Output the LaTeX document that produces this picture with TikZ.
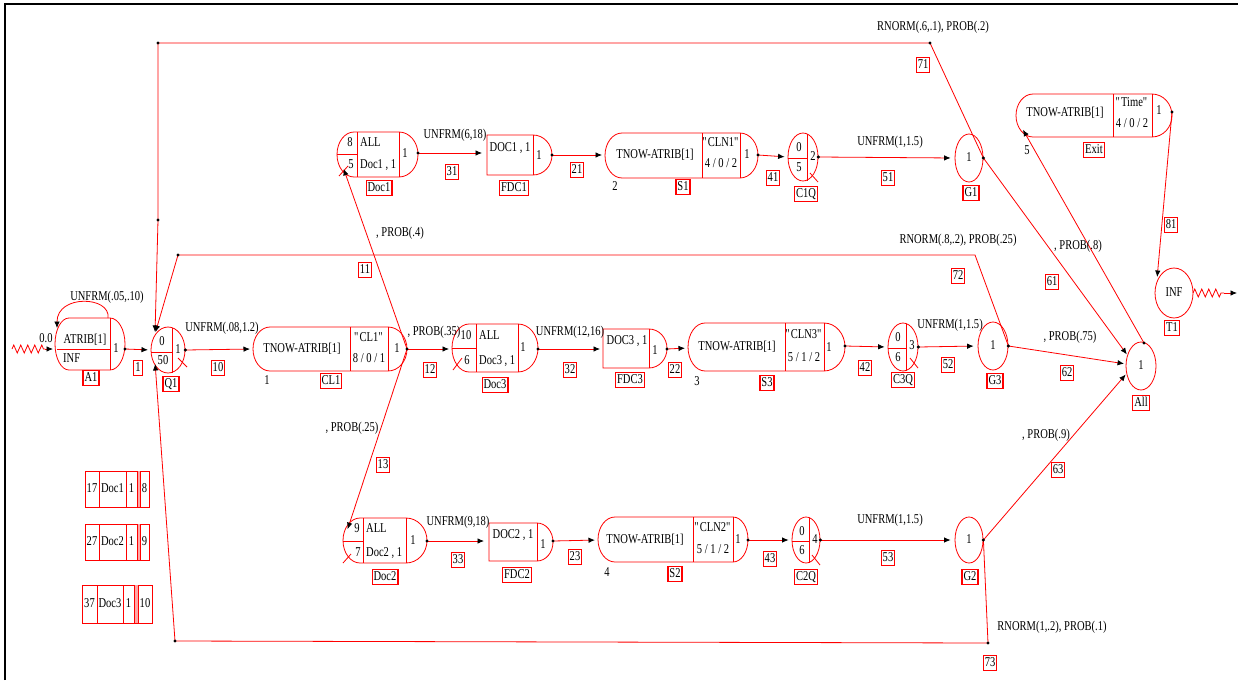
\documentclass[tikz,border=0pt]{standalone}
\usepackage{fontspec}
\setmainfont{Liberation Serif}[FakeStretch=0.78]
\usetikzlibrary{arrows.meta,decorations.pathmorphing,shapes.geometric}

% straight double quotes round a text (glyph taken directly, no quote mapping)
\newcommand{\sqmark}{\XeTeXglyph\XeTeXcharglyph"22\relax}
\newcommand{\sq}[1]{\sqmark#1\sqmark}

% outline with elliptic end caps: xl, xr, top, bottom, left cap width, right cap width
\newcommand{\flowpill}[6]{%
  \pgfmathsetmacro{\pqym}{(#3+#4)/2}%
  \pgfmathsetmacro{\pqhh}{(#4-#3)/2}%
  \pgfmathsetmacro{\pqa}{#1+#5}%
  \pgfmathsetmacro{\pqb}{#2-#6}%
  \pgfmathsetmacro{\pqak}{#1+#5-0.552*#5}%
  \pgfmathsetmacro{\pqbk}{#2-#6+0.552*#6}%
  \pgfmathsetmacro{\pqt}{\pqym-0.552*\pqhh}%
  \pgfmathsetmacro{\pqu}{\pqym+0.552*\pqhh}%
  \draw[shp] (\pqa,#3) -- (\pqb,#3)
     .. controls (\pqbk,#3) and (#2,\pqt) .. (#2,\pqym)
     .. controls (#2,\pqu) and (\pqbk,#4) .. (\pqb,#4)
     -- (\pqa,#4)
     .. controls (\pqak,#4) and (#1,\pqu) .. (#1,\pqym)
     .. controls (#1,\pqt) and (\pqak,#3) .. cycle;
}

\tikzset{
  shp/.style={draw=red, line width=0.8pt},
  flow/.style={draw=red, line width=0.8pt, -{Latex[black,length=6.5pt,width=5.5pt]}, shorten >=2pt},
  txt/.style={inner sep=0pt, text height=9pt, text depth=2.5pt},
  tag/.style={draw=red, line width=1.2pt, inner xsep=1.5pt, inner ysep=1.8pt, text height=9pt, text depth=2.5pt},
  oval/.style={ellipse, draw=red, line width=0.8pt, inner sep=0pt},
  zig/.style={draw=red, line width=0.8pt, decorate, decoration={zigzag, segment length=7pt, amplitude=4pt}},
  dot/.style={fill=black},
}

\begin{document}
\begin{tikzpicture}[x=1pt, y=-1pt, every node/.style={font=\fontsize{13.5}{15}\selectfont}]
\useasboundingbox (0,0) rectangle (1238,680);
\fill[white] (0,0) rectangle (1238,680);
% window frame
\draw[black, line width=2pt] (5,680) -- (5,4) -- (1238,4);

% ---------------- shapes ----------------
% A1 create node
\flowpill{55}{125}{318}{370}{14}{15}
\draw[shp] (110,318) -- (110,370);
\draw[shp] (57,349) -- (110,349);
\node[txt] (A1a) at (85,340) {ATRIB[1]};
\node[txt, anchor=west] (A1b) at (63,359) {INF};
\node[txt] (A1c) at (116,349) {1};

% Q1 queue
\node[oval, minimum width=34pt, minimum height=46pt] (Q1) at (168,350) {};
\draw[shp] (172,327.5) -- (172,372.5);
\draw[shp] (151,352) -- (172,352);
\draw[shp] (178,358) -- (187,367);
\node[txt] (Q1a) at (162,342) {0};
\node[txt] (Q1b) at (163,361) {50};
\node[txt] (Q1c) at (178,350) {1};

% CL1 activity
\flowpill{253}{407}{327}{371}{17}{19}
\draw[shp] (350,327) -- (350,371);
\draw[shp] (388,327) -- (388,371);
\node[txt] (CL1a) at (302,349) {TNOW-ATRIB[1]};
\node[txt] (CL1b) at (369,338) {\sq{CL1}};
\node[txt] (CL1c) at (369,359) {8 / 0 / 1};
\node[txt] (CL1d) at (397,349) {1};

% Doc1 await
\flowpill{337}{418}{132}{177}{17}{19}
\draw[shp] (357,132) -- (357,177);
\draw[shp] (399,132) -- (399,177);
\draw[shp] (337,154) -- (357,154);
\draw[shp] (339,176) -- (348,166);
\node[txt] (D1a) at (350,143) {8};
\node[txt] (D1b) at (351,165) {5};
\node[txt, anchor=west] (D1c) at (360,143) {ALL};
\node[txt, anchor=west] (D1d) at (360,165) {Doc1 , 1};
\node[txt] (D1e) at (405,154) {1};

% FDC1 free
\flowpill{487}{552}{135}{175}{0}{19}
\draw[shp] (533,135) -- (533,175);
\node[txt] (F1a) at (510,148) {DOC1 , 1};
\node[txt] (F1b) at (539,156) {1};

% S1 activity
\flowpill{605}{758}{133}{178}{17}{18}
\draw[shp] (702,133) -- (702,178);
\draw[shp] (740,133) -- (740,178);
\node[txt] (S1a) at (655,155) {TNOW-ATRIB[1]};
\node[txt] (S1b) at (721,143) {\sq{CLN1}};
\node[txt] (S1c) at (721,164) {4 / 0 / 2};
\node[txt] (S1d) at (747,155) {1};

% C1Q queue
\node[oval, minimum width=30pt, minimum height=48pt] (C1Q) at (803,157) {};
\draw[shp] (807,133.5) -- (807,180.5);
\draw[shp] (788,158) -- (807,158);
\draw[shp] (810,173) -- (818,182);
\node[txt] (C1a) at (799,148) {0};
\node[txt] (C1b) at (799,168) {5};
\node[txt] (C1c) at (813,157) {2};

% G1
\node[oval, minimum width=28pt, minimum height=48pt] (G1) at (969,158) {};
\node[txt] (G1a) at (969,158) {1};

% Doc3 await
\flowpill{452}{538}{324}{372}{17}{20}
\draw[shp] (476,324) -- (476,372);
\draw[shp] (518,324) -- (518,372);
\draw[shp] (452,348) -- (476,348);
\draw[shp] (453,370) -- (462,358);
\node[txt] (D3a) at (466,336) {10};
\node[txt] (D3b) at (467,361) {6};
\node[txt, anchor=west] (D3c) at (479,336) {ALL};
\node[txt, anchor=west] (D3d) at (479,361) {Doc3 , 1};
\node[txt] (D3e) at (523,348) {1};

% FDC3 free
\flowpill{603}{667}{329}{368}{0}{18}
\draw[shp] (649,329) -- (649,368);
\node[txt] (F3a) at (627,341) {DOC3 , 1};
\node[txt] (F3b) at (655,351) {1};

% S3 activity
\flowpill{688}{845}{323}{371}{17}{21}
\draw[shp] (785,323) -- (785,371);
\draw[shp] (824,323) -- (824,371);
\node[txt] (S3a) at (737,347) {TNOW-ATRIB[1]};
\node[txt] (S3b) at (804,335) {\sq{CLN3}};
\node[txt] (S3c) at (804,358) {5 / 1 / 2};
\node[txt] (S3d) at (829,348) {1};

% C3Q queue
\node[oval, minimum width=30pt, minimum height=48pt] (C3Q) at (903,347) {};
\draw[shp] (906,323.5) -- (906,370.5);
\draw[shp] (888,348) -- (906,348);
\draw[shp] (910,358) -- (918,368);
\node[txt] (C3a) at (898,338) {0};
\node[txt] (C3b) at (898,358) {6};
\node[txt] (C3c) at (912,346) {3};

% G3
\node[oval, minimum width=30pt, minimum height=48pt] (G3) at (993,346) {};
\node[txt] (G3a) at (993,346) {1};

% Doc2 await
\flowpill{343}{427}{518}{563}{17}{21}
\draw[shp] (363,518) -- (363,563);
\draw[shp] (406,518) -- (406,563);
\draw[shp] (343,541) -- (363,541);
\draw[shp] (343,563) -- (351,554);
\node[txt] (D2a) at (357,529) {9};
\node[txt] (D2b) at (358,553) {7};
\node[txt, anchor=west] (D2c) at (366,529) {ALL};
\node[txt, anchor=west] (D2d) at (366,553) {Doc2 , 1};
\node[txt] (D2e) at (413,541) {1};

% FDC2 free
\flowpill{489}{553}{523}{561}{0}{16}
\draw[shp] (537,523) -- (537,561);
\node[txt] (F2a) at (513,535) {DOC2 , 1};
\node[txt] (F2b) at (543,545) {1};

% S2 activity
\flowpill{598}{748}{517}{562}{17}{15}
\draw[shp] (693,517) -- (693,562);
\draw[shp] (733,517) -- (733,562);
\node[txt] (S2a) at (645,540) {TNOW-ATRIB[1]};
\node[txt] (S2b) at (713,528) {\sq{CLN2}};
\node[txt] (S2c) at (713,550) {5 / 1 / 2};
\node[txt] (S2d) at (738,540) {1};

% C2Q queue
\node[oval, minimum width=28pt, minimum height=46pt] (C2Q) at (806,540) {};
\draw[shp] (809,517.5) -- (809,562.5);
\draw[shp] (792,541) -- (809,541);
\draw[shp] (812,555) -- (820,565);
\node[txt] (C2a) at (802,532) {0};
\node[txt] (C2b) at (802,551) {6};
\node[txt] (C2c) at (815,540) {4};

% G2
\node[oval, minimum width=28pt, minimum height=46pt] (G2) at (969,540) {};
\node[txt] (G2a) at (969,540) {1};

% All (accumulate)
\node[oval, minimum width=30pt, minimum height=48pt] (All) at (1141,366) {};
\node[txt] (Alla) at (1141,366) {1};

% Exit activity
\flowpill{1016}{1172}{94}{137}{17}{20}
\draw[shp] (1113,94) -- (1113,137);
\draw[shp] (1152,94) -- (1152,137);
\node[txt] (Ea) at (1065,113) {TNOW-ATRIB[1]};
\node[txt] (Eb) at (1132,103) {\sq{Time}};
\node[txt] (Ec) at (1132,124) {4 / 0 / 2};
\node[txt] (Ed) at (1159,111) {1};

% T1 terminate
\node[oval, minimum width=38pt, minimum height=50pt] (T1) at (1174,293) {};
\node[txt] (T1a) at (1174,293) {INF};

% ---------------- connection points ----------------
\coordinate (A1-in) at (55,349);
\coordinate (A1-out) at (125,349);
\coordinate (A1-top) at (108,318);
\coordinate (A1-back) at (57,330);
\coordinate (srcA) at (12,349);
\coordinate (srcB) at (45,349);
\coordinate (Q1-in) at (151,350);
\coordinate (Q1-tin) at (155,334);
\coordinate (Q1-bin) at (155,362);
\coordinate (CL1-in) at (253,349);
\coordinate (CL1-out) at (407,349);
\coordinate (Doc1-in) at (343,167);
\coordinate (Doc1-out) at (418,153);
\coordinate (Doc3-in) at (452,349);
\coordinate (Doc3-out) at (538,349);
\coordinate (Doc2-in) at (347,531);
\coordinate (Doc2-out) at (427,541);
\coordinate (FDC1-in) at (487,153);
\coordinate (FDC1-out) at (552,155);
\coordinate (FDC3-in) at (603,349);
\coordinate (FDC3-out) at (667,349);
\coordinate (FDC2-in) at (489,541);
\coordinate (FDC2-out) at (553,541);
\coordinate (S1-in) at (605,155);
\coordinate (S1-out) at (758,155);
\coordinate (S3-in) at (688,348);
\coordinate (S3-out) at (845,346);
\coordinate (S2-in) at (598,540);
\coordinate (S2-out) at (748,540);
\coordinate (All-a) at (1128,356);
\coordinate (All-b) at (1126,364);
\coordinate (All-c) at (1127,373);
\coordinate (All-top) at (1144,343);
\coordinate (Exit-in) at (1022,128);
\coordinate (Exit-out) at (1172,112);
\coordinate (T1-in) at (1157,279);
\coordinate (sinkA) at (1193,293);
\coordinate (sinkB) at (1224,293);
\coordinate (sinkC) at (1237,293);
% route corners
\coordinate (k71a) at (930,43);
\coordinate (k71b) at (158,43);
\coordinate (k71c) at (158,220);
\coordinate (k72a) at (975,255);
\coordinate (k72b) at (178,255);
\coordinate (k73a) at (988,643);
\coordinate (k73b) at (175,641);

% ---------------- connectors ----------------
\draw[zig] (srcA) -- (srcB);
\draw[flow] (srcB) -- (A1-in);
\draw[flow] (A1-top) .. controls (111,296) and (57,294) .. (A1-back);
\draw[flow, shorten >=3pt] (A1-out) -- (Q1-in);
\draw[flow, shorten >=3pt] (Q1.east) -- (CL1-in);
\draw[flow, shorten >=3pt] (CL1-out) -- (Doc3-in);
\draw[flow] (CL1-out) -- (Doc1-in);
\draw[flow] (CL1-out) -- (Doc2-in);
\draw[flow, shorten >=5pt] (Doc1-out) -- (FDC1-in);
\draw[flow, shorten >=3pt] (FDC1-out) -- (S1-in);
\draw[flow, shorten >=3pt] (S1-out) -- (C1Q.west);
\draw[flow, shorten >=4pt] (C1Q.east) -- (G1.west);
\draw[flow, shorten >=3pt] (Doc3-out) -- (FDC3-in);
\draw[flow, shorten >=3pt] (FDC3-out) -- (S3-in);
\draw[flow, shorten >=3pt] (S3-out) -- (C3Q.west);
\draw[flow, shorten >=4pt] (C3Q.east) -- (G3.west);
\draw[flow, shorten >=5pt] (Doc2-out) -- (FDC2-in);
\draw[flow, shorten >=3pt] (FDC2-out) -- (S2-in);
\draw[flow, shorten >=3pt] (S2-out) -- (C2Q.west);
\draw[flow, shorten >=4pt] (C2Q.east) -- (G2.west);
\draw[flow] (G1.east) -- (All-a);
\draw[flow] (G3.east) -- (All-b);
\draw[flow] (G2.east) -- (All-c);
\draw[flow] (All-top) -- (Exit-in);
\draw[flow] (Exit-out) -- (T1-in);
\draw[zig] (sinkA) -- (sinkB);
\draw[flow, shorten >=0pt] (sinkB) -- (sinkC);
\draw[flow] (G1.east) -- (k71a) -- (k71b) -- (k71c) -- (Q1-tin);
\draw[flow] (G3.east) -- (k72a) -- (k72b) -- (Q1-tin);
\draw[flow] (G2.east) -- (k73a) -- (k73b) -- (Q1-bin);

% output dots and route corners
\foreach \p in {A1-out, Q1.east, CL1-out, Doc1-out, FDC1-out, S1-out, C1Q.east, G1.east,
  Doc3-out, FDC3-out, S3-out, C3Q.east, G3.east, Doc2-out, FDC2-out, S2-out, C2Q.east,
  G2.east, All-top, Exit-out, k71a, k71b, k71c, k72b, k73a, k73b}
  \fill[dot] (\p) circle (1.7);

% ---------------- activity texts ----------------
\node[txt] (l01) at (107,297) {UNFRM(.05,.10)};
\node[txt] (l02) at (46,339) {0.0};
\node[txt] (l03) at (222,328) {UNFRM(.08,1.2)};
\node[txt] (l04) at (434,332) {, PROB(.35)};
\node[txt] (l05) at (400,233) {, PROB(.4)};
\node[txt] (l06) at (352,428) {, PROB(.25)};
\node[txt] (l07) at (455,135) {UNFRM(6,18)};
\node[txt] (l08) at (890,142) {UNFRM(1,1.5)};
\node[txt] (l09) at (933,27) {RNORM(.6,.1), PROB(.2)};
\node[txt] (l10) at (1078,246) {, PROB(.8)};
\node[txt] (l11) at (958,240) {RNORM(.8,.2), PROB(.25)};
\node[txt] (l12) at (1070,337) {, PROB(.75)};
\node[txt] (l13) at (570,332) {UNFRM(12,16)};
\node[txt] (l14) at (950,325) {UNFRM(1,1.5)};
\node[txt] (l15) at (1046,435) {, PROB(.9)};
\node[txt] (l16) at (458,522) {UNFRM(9,18)};
\node[txt] (l17) at (890,520) {UNFRM(1,1.5)};
\node[txt] (l18) at (1052,627) {RNORM(1,.2), PROB(.1)};
\node[txt] (n1) at (267,381) {1};
\node[txt] (n2) at (615,187) {2};
\node[txt] (n3) at (697,382) {3};
\node[txt] (n4) at (607,573) {4};
\node[txt] (n5) at (1027,151) {5};

% ---------------- number and name tags ----------------
\node[tag] (b1) at (138,368) {1};
\node[tag] (bA1) at (91,378) {A1};
\node[tag] (bQ1) at (171,384) {Q1};
\node[tag] (b10) at (218,368) {10};
\node[tag] (bCL1) at (331,381) {CL1};
\node[tag] (b12) at (430,370) {12};
\node[tag] (b11) at (365,270) {11};
\node[tag] (b13) at (383,465) {13};
\node[tag] (bDoc1) at (379,188) {Doc1};
\node[tag] (b31) at (452,172) {31};
\node[tag] (bFDC1) at (514,188) {FDC1};
\node[tag] (b21) at (577,170) {21};
\node[tag] (bS1) at (683,187) {S1};
\node[tag] (b41) at (773,178) {41};
\node[tag] (bC1Q) at (806,194) {C1Q};
\node[tag] (b51) at (888,178) {51};
\node[tag] (bG1) at (971,193) {G1};
\node[tag] (b71) at (923,65) {71};
\node[tag] (b61) at (1052,282) {61};
\node[tag] (bExit) at (1094,150) {Exit};
\node[tag] (b81) at (1171,225) {81};
\node[tag] (bT1) at (1172,328) {T1};
\node[tag] (b72) at (958,276) {72};
\node[tag] (b62) at (1067,373) {62};
\node[tag] (bAll) at (1141,403) {All};
\node[tag] (bDoc3) at (495,385) {Doc3};
\node[tag] (b32) at (570,370) {32};
\node[tag] (bFDC3) at (630,380) {FDC3};
\node[tag] (b22) at (675,370) {22};
\node[tag] (bS3) at (767,383) {S3};
\node[tag] (b42) at (865,368) {42};
\node[tag] (bC3Q) at (903,380) {C3Q};
\node[tag] (b52) at (948,365) {52};
\node[tag] (bG3) at (995,381) {G3};
\node[tag] (b63) at (1058,470) {63};
\node[tag] (bDoc2) at (385,577) {Doc2};
\node[tag] (b33) at (458,560) {33};
\node[tag] (bFDC2) at (517,575) {FDC2};
\node[tag] (b23) at (575,557) {23};
\node[tag] (bS2) at (675,574) {S2};
\node[tag] (b43) at (770,559) {43};
\node[tag] (bC2Q) at (806,577) {C2Q};
\node[tag] (b53) at (888,558) {53};
\node[tag] (bG2) at (970,577) {G2};
\node[tag] (b73) at (990,663) {73};

% ---------------- resource blocks ----------------
\foreach \top/\nm/\cap/\fl in {471/Doc1/17/8, 524/Doc2/27/9} {
  \draw[shp] (85,\top) rectangle (149,\top+36);
  \fill[red!35] (137,\top) rectangle (140,\top+36);
  \draw[shp] (99,\top) -- (99,\top+36);
  \draw[shp] (126,\top) -- (126,\top+36);
  \draw[shp] (137,\top) -- (137,\top+36);
  \draw[shp] (140,\top) -- (140,\top+36);
  \node[txt] at (92,\top+18) {\cap};
  \node[txt] at (112.5,\top+18) {\nm};
  \node[txt] at (131.5,\top+18) {1};
  \node[txt] at (144.5,\top+18) {\fl};
}
\draw[shp] (82,585) rectangle (152,623);
\fill[red!35] (134,585) rectangle (138,623);
\draw[shp] (97,585) -- (97,623);
\draw[shp] (123,585) -- (123,623);
\draw[shp] (134,585) -- (134,623);
\draw[shp] (138,585) -- (138,623);
\node[txt] (r3a) at (89.5,604) {37};
\node[txt] (r3b) at (110,604) {Doc3};
\node[txt] (r3c) at (128.5,604) {1};
\node[txt] (r3d) at (145,604) {10};
\end{tikzpicture}
\end{document}
